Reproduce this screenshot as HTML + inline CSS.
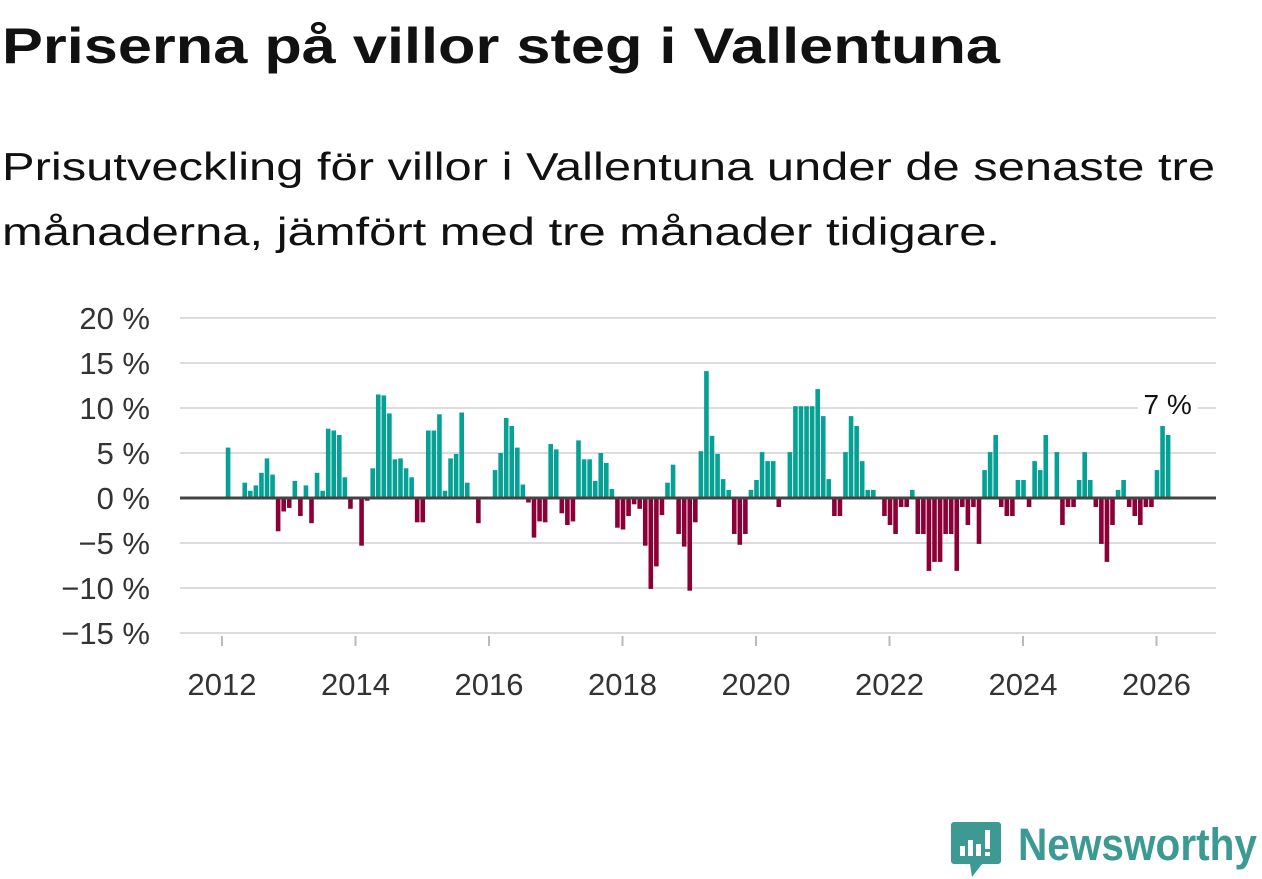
<!DOCTYPE html>
<html><head><meta charset="utf-8">
<style>
html,body{margin:0;padding:0;background:#fff;}
svg{display:block;font-family:"Liberation Sans",sans-serif;}
</style></head>
<body>
<svg id="chart" width="1262" height="879" viewBox="0 0 1262 879">
  <text x="2" y="63" font-size="50" font-weight="bold" fill="#111" textLength="998" lengthAdjust="spacingAndGlyphs">Priserna på villor steg i Vallentuna</text>
  <text x="2" y="180" font-size="39" fill="#111" textLength="1213" lengthAdjust="spacingAndGlyphs">Prisutveckling för villor i Vallentuna under de senaste tre</text>
  <text x="2" y="245" font-size="39" fill="#111" textLength="998" lengthAdjust="spacingAndGlyphs">månaderna, jämfört med tre månader tidigare.</text>
  <g id="grid"></g>
  <g id="bars"></g>
  <g id="axes"></g>
  <g>
    <path d="M954 822 h44 a3 3 0 0 1 3 3 v36 a3 3 0 0 1 -3 3 h-16 l-10 13 l-2 -13 h-16 a3 3 0 0 1 -3 -3 v-36 a3 3 0 0 1 3 -3z" fill="#3c9a93"/>
    <rect x="960" y="846" width="5" height="10" fill="#fff"/>
    <rect x="968" y="840" width="5" height="16" fill="#fff"/>
    <rect x="976" y="844" width="5" height="12" fill="#fff"/>
    <rect x="985" y="830" width="5" height="19" fill="#fff"/>
    <rect x="985" y="852" width="5" height="4" fill="#fff"/>
    <text x="1018" y="860" font-size="45" font-weight="bold" fill="#3c9a93" textLength="239" lengthAdjust="spacingAndGlyphs">Newsworthy</text>
  </g>
</svg>
<script>
const yTicks = [20, 15, 10, 5, 0, -5, -10, -15];
const yTickLabels = ["20 %", "15 %", "10 %", "5 %", "0 %", "\u22125 %", "\u221210 %", "\u221215 %"];
const xTickYears = [2012, 2014, 2016, 2018, 2020, 2022, 2024, 2026];
const startYear = 2012;
// monthly values from Jan 2012 to Mar 2026
const values = [
0,5.6,0,0,1.7,0.8,1.4,2.8,4.4,2.6,-3.7,-1.5,
-1.1,1.9,-2.0,1.4,-2.8,2.8,0.8,7.7,7.5,7.0,2.3,-1.2,
0,-5.3,-0.3,3.3,11.5,11.4,9.4,4.3,4.4,3.3,2.3,-2.7,
-2.7,7.5,7.5,9.3,0.8,4.4,4.9,9.5,1.7,0,-2.8,0,
0,3.1,5.0,8.9,8.0,5.6,1.5,-0.5,-4.4,-2.6,-2.7,6.0,
5.4,-1.7,-3.0,-2.6,6.4,4.3,4.3,1.9,5.0,3.9,1.0,-3.3,
-3.5,-2.0,-0.7,-1.2,-5.3,-10.1,-7.6,-1.9,1.7,3.7,-4.0,-5.4,
-10.3,-2.7,5.2,14.1,6.9,4.9,2.1,0.9,-4.0,-5.2,-4.0,0.9,
2.0,5.1,4.1,4.1,-1.0,0,5.1,10.2,10.2,10.2,10.2,12.1,
9.1,2.1,-2.0,-2.0,5.1,9.1,8.0,4.1,0.9,0.9,0,-2.0,
-3.0,-4.0,-1.0,-1.0,0.9,-4.0,-4.0,-8.1,-7.1,-7.1,-4.0,-4.0,
-8.1,-1.0,-3.0,-1.0,-5.1,3.1,5.1,7.0,-1.0,-2.0,-2.0,2.0,
2.0,-1.0,4.1,3.1,7.0,0,5.1,-3.0,-1.0,-1.0,2.0,5.1,
2.0,-1.0,-5.1,-7.1,-3.0,0.9,2.0,-1.0,-2.0,-3.0,-1.0,-1.0,
3.1,8.0,7.0
];
const lastLabel = "7 %";

const NS = "http://www.w3.org/2000/svg";
const X0 = 180, X1 = 1216;
function yScale(v){ return 498 - v * 9.0; }
function xScale(monthIndex){ return 222.5 + monthIndex * 5.5625; }
function mk(tag, attrs, parent){
  const el = document.createElementNS(NS, tag);
  for (const k in attrs) el.setAttribute(k, attrs[k]);
  parent.appendChild(el);
  return el;
}
const grid = document.getElementById('grid');
const bars = document.getElementById('bars');
const axes = document.getElementById('axes');

yTicks.forEach((t, i) => {
  if (t !== 0) {
    const ln = mk('line', {x1:X0, x2:X1, y1:yScale(t), y2:yScale(t), stroke:'#dcdcdc', 'stroke-width':2}, grid);
    
    
  }
  const tx = mk('text', {x:150, y:yScale(t)+11, 'text-anchor':'end', 'font-size':31, fill:'#333'}, axes);
  tx.textContent = yTickLabels[i];
  
  
});

values.forEach((v, i) => {
  if (v === 0) return;
  const c = xScale(i);
  const y0 = yScale(0), y1 = yScale(v);
  const r = mk('rect', {x:c-2.3, width:4.6, y:Math.min(y0,y1), height:Math.abs(y1-y0), fill: v > 0 ? '#05a195' : '#8c0038'}, bars);
  
  
});

const zl = mk('line', {x1:X0, x2:X1, y1:yScale(0), y2:yScale(0), stroke:'#444', 'stroke-width':3}, axes);



xTickYears.forEach(yr => {
  const x = xScale((yr - startYear) * 12) - 0.5;
  const tk = mk('line', {x1:x, x2:x, y1:636, y2:646, stroke:'#bbb', 'stroke-width':2}, axes);
  
  
  const tx = mk('text', {x:x, y:695, 'text-anchor':'middle', 'font-size':31, fill:'#333'}, axes);
  tx.textContent = String(yr);
  
  
});

const li = values.length - 1;
const lx = xScale(li) - 0.5, ly = yScale(values[li]) - 21;
const bg = mk('rect', {x:lx-30, y:ly-22, width:60, height:26, fill:'#fff'}, axes);


const lab = mk('text', {x:lx, y:ly, 'text-anchor':'middle', 'font-size':28, fill:'#111'}, axes);
lab.textContent = lastLabel;


</script>
</body></html>
